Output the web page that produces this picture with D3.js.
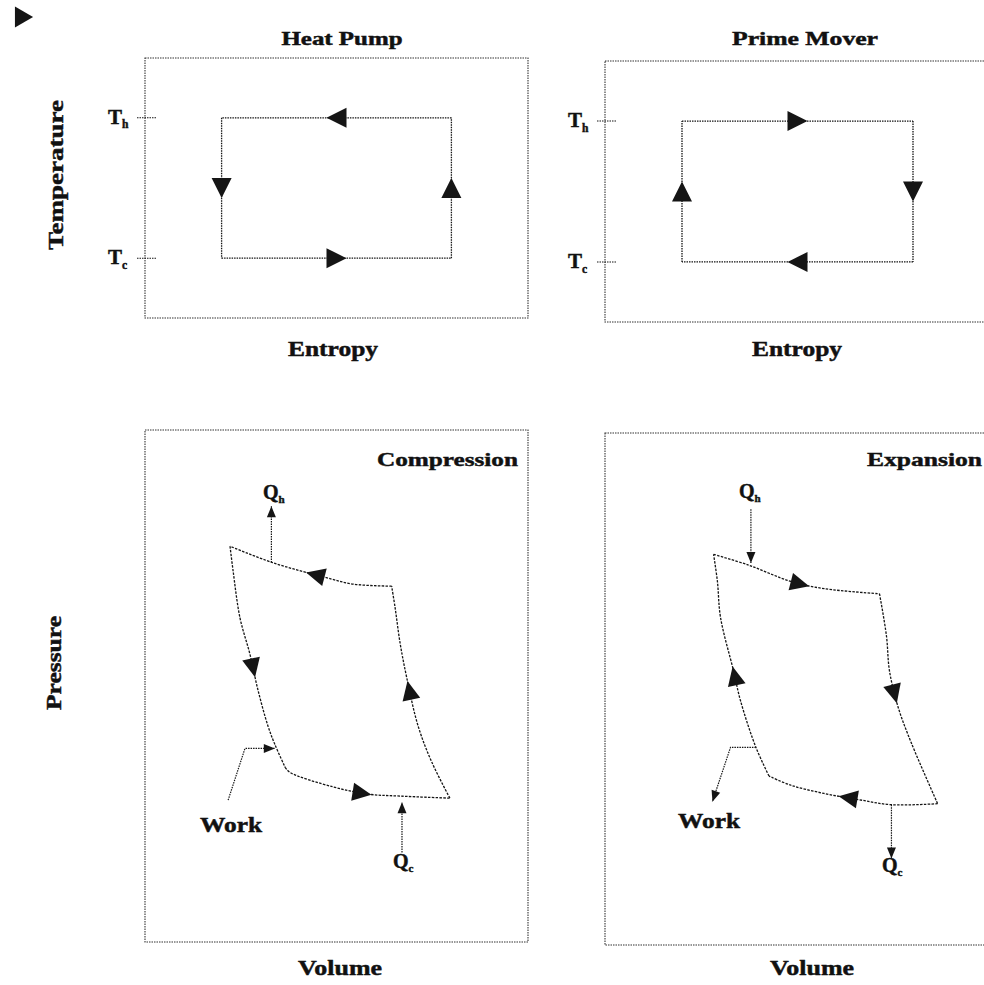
<!DOCTYPE html>
<html><head><meta charset="utf-8">
<script src="https://cdn.jsdelivr.net/npm/d3@7/dist/d3.min.js"></script>
<style>
html,body{margin:0;padding:0;background:#fff;}
svg{display:block;}
text{font-family:"Liberation Serif","Times New Roman",serif;font-weight:bold;fill:#111;stroke:#111;stroke-width:0.45px;}
</style></head><body>
<svg id="chart" width="984" height="985"></svg>
<script>
// ---------------- data ----------------
const tsTitles = ["Heat Pump", "Prime Mover"];
const pvTitles = ["Compression", "Expansion"];
const tsXLabel = "Entropy";
const tsYLabel = "Temperature";
const pvXLabel = "Volume";
const pvYLabel = "Pressure";
const tempTickLabels = ["h", "c"];      // T_h , T_c
const tempLevels = [77, 23];            // hot / cold isotherm temperature (axis units)
// T-S cycle corners (entropy, temperature) in travel order
const heatPumpCycle = [[80, 77], [20, 77], [20, 23], [80, 23]];
const primeMoverCycle = [[20, 77], [80, 77], [80, 23], [20, 23]];
const tsArrowPos = [0.5, 0.5, 0.5, 0.5];
// P-V legs (volume, pressure), each in travel order
const compTop    = [[64.4,69.5],[54.4,69.9],[46.6,71.3],[33.3,74.1],[22.2,77.3]];
const compLeft   = [[22.2,77.3],[23.0,72.5],[24.8,63.3],[27.4,56.2],[29.5,49.2],[32.1,42.2],[33.9,38.6],[36.6,34.1]];
const compBottom = [[36.6,34.1],[37.9,33.1],[49.1,30.3],[58.0,28.9],[66.6,28.5],[79.6,28.1]];
const compRight  = [[79.6,28.1],[74.9,35.1],[71.3,42.2],[68.4,51.4],[66.6,58.4],[65.3,65.3],[64.4,69.5]];
const compArrowPos = [0.46, 0.54, 0.48, 0.52];
const expTop     = [[28.2,76.3],[37.3,74.2],[48.3,71.0],[56.9,69.6],[71.3,68.6]];
const expRight   = [[71.3,68.6],[73.1,60.4],[73.9,53.5],[76.2,46.3],[79.6,39.4],[86.4,27.6]];
const expBottom  = [[86.4,27.6],[74.4,27.4],[65.8,28.4],[56.9,29.6],[48.3,31.2],[42.6,33.0]];
const expLeft    = [[42.6,33.0],[39.2,38.6],[35.2,47.7],[33.4,53.5],[30.0,64.0],[29.2,71.0],[28.2,76.3]];
const expArrowPos = [0.53, 0.46, 0.52, 0.46];
// energy-flow arrows (volume, pressure), from tail to head
const compQh   = [[33.0,74.1],[33.0,85.1]];
const compQc   = [[67.1,17.5],[67.1,27.3]];
const compWork = [[21.7,27.7],[26.1,37.8],[33.9,37.8]];
const expQh    = [[37.9,85.1],[37.9,74.6]];
const expQc    = [[74.4,27.4],[74.4,16.9]];
const expWork  = [[39.2,38.6],[32.6,38.6],[27.9,28.0]];
const flowLabels = ["Q", "h", "c", "Work"];

// ---------------- layout ----------------
const svg = d3.select("#chart");
const boxes = [
  {x0:145, x1:528, y0:58,  y1:318},
  {x0:605, x1:990, y0:61,  y1:322},
  {x0:145, x1:528, y0:430, y1:942},
  {x0:605, x1:990, y0:433, y1:945}
];
const ink = "#151515";

function scalesFor(b){
  return {
    x: d3.scaleLinear().domain([0,100]).range([b.x0,b.x1]),
    y: d3.scaleLinear().domain([0,100]).range([b.y1,b.y0])
  };
}
function label(g, txt, x, y, size, width, anchor, rotate){
  const t = g.append("text").attr("x",x).attr("y",y)
    .attr("font-size",size).attr("text-anchor",anchor||"middle").text(txt);
  if(width) t.attr("textLength",width).attr("lengthAdjust","spacingAndGlyphs");
  if(rotate) t.attr("transform",`rotate(${rotate},${x},${y})`);
  return t;
}
function subLabel(g, main, sub, x, y, size){
  const t = g.append("text").attr("x",x).attr("y",y).attr("font-size",size).attr("text-anchor","start");
  t.append("tspan").text(main);
  t.append("tspan").attr("font-size",size*0.55).attr("dy",size*0.22).text(sub);
  return t;
}
function frame(g,b){
  g.append("rect").attr("x",b.x0).attr("y",b.y0).attr("width",b.x1-b.x0).attr("height",b.y1-b.y0)
    .attr("fill","none").attr("stroke","#333").attr("stroke-width",1.1).attr("stroke-dasharray","1.5,1");
}
function arrowOn(g, pathNode, frac, shape){
  const L = pathNode.getTotalLength();
  const p = pathNode.getPointAtLength(frac*L);
  const q = pathNode.getPointAtLength(Math.min(L, frac*L+2));
  const p0 = pathNode.getPointAtLength(Math.max(0, frac*L-2));
  const ang = Math.atan2(q.y-p0.y, q.x-p0.x)*180/Math.PI;
  g.append("path").attr("d",shape).attr("fill",ink)
    .attr("transform",`translate(${p.x},${p.y}) rotate(${ang})`);
}
function headAt(g, a, b, shape){
  const ang = Math.atan2(b[1]-a[1], b[0]-a[0])*180/Math.PI;
  g.append("path").attr("d",shape).attr("fill",ink)
    .attr("transform",`translate(${b[0]},${b[1]}) rotate(${ang})`);
}
const bigHead = "M10,0L-10,-10L-10,10Z";
const pvHead  = "M10,0L-9,-9L-9,9Z";
const smallHead = "M0,0L-11,-4.5L-11,4.5Z";

// decorative bullet
svg.append("path").attr("d", d3.symbol(d3.symbolTriangle, 190)())
  .attr("transform","translate(21,17) rotate(90)").attr("fill",ink);

// ---------------- T-S panels ----------------
function drawTS(i, cycle, title, titleX, xLabX){
  const b = boxes[i], s = scalesFor(b), g = svg.append("g");
  frame(g,b);
  label(g, title, titleX, 45, 18, title.length>9?146:121);
  label(g, tsXLabel, xLabX, 356, 20, 90);
  tempLevels.forEach((t,k)=>{
    g.append("line").attr("x1",s.x(0)-8).attr("x2",s.x(0)+12)
      .attr("y1",s.y(t)).attr("y2",s.y(t))
      .attr("stroke",ink).attr("stroke-width",1.1).attr("stroke-dasharray","1.5,1");
    subLabel(g,"T",tempTickLabels[k],s.x(0)-37,s.y(t)+6,21);
  });
  const line = d3.line().x(d=>s.x(d[0])).y(d=>s.y(d[1]));
  cycle.forEach((c,k)=>{
    const seg = [c, cycle[(k+1)%cycle.length]];
    const p = g.append("path").attr("d",line(seg)).attr("fill","none")
      .attr("stroke",ink).attr("stroke-width",1.3).attr("stroke-dasharray","1.5,1");
    arrowOn(g, p.node(), tsArrowPos[k], bigHead);
  });
}
drawTS(0, heatPumpCycle, tsTitles[0], 342, 333);
drawTS(1, primeMoverCycle, tsTitles[1], 805, 797);
label(svg, tsYLabel, 63, 175, 21, 150, "middle", -90);

// ---------------- P-V panels ----------------
function drawPV(i, legs, fracs, qh, qc, work, title, titleEnd, volX, workPos, qhLab, qcLab){
  const b = boxes[i], s = scalesFor(b), g = svg.append("g");
  frame(g,b);
  label(g, title, titleEnd, 466, 19, title.length>9?141:115, "end");
  label(g, pvXLabel, volX, 975, 20, 84);
  const curve = d3.line().x(d=>s.x(d[0])).y(d=>s.y(d[1])).curve(d3.curveCatmullRom.alpha(0.5));
  legs.forEach((leg,k)=>{
    const p = g.append("path").attr("d",curve(leg)).attr("fill","none")
      .attr("stroke",ink).attr("stroke-width",1.3).attr("stroke-dasharray","2.5,1.3");
    arrowOn(g, p.node(), fracs[k], pvHead);
  });
  const straight = d3.line().x(d=>s.x(d[0])).y(d=>s.y(d[1]));
  [qh,qc,work].forEach(f=>{
    g.append("path").attr("d",straight(f)).attr("fill","none")
      .attr("stroke",ink).attr("stroke-width",1.2).attr("stroke-dasharray","1.5,1");
    const n = f.length;
    headAt(g,[s.x(f[n-2][0]),s.y(f[n-2][1])],[s.x(f[n-1][0]),s.y(f[n-1][1])],smallHead);
  });
  subLabel(g, flowLabels[0], flowLabels[1], qhLab[0], qhLab[1], 20);
  subLabel(g, flowLabels[0], flowLabels[2], qcLab[0], qcLab[1], 20);
  label(g, flowLabels[3], workPos[0], workPos[1], 20, 62, "start");
}
drawPV(2, [compTop,compLeft,compBottom,compRight], compArrowPos, compQh, compQc, compWork,
       pvTitles[0], 518, 340, [200,832], [263,499], [393,868]);
drawPV(3, [expTop,expRight,expBottom,expLeft], expArrowPos, expQh, expQc, expWork,
       pvTitles[1], 982, 812, [678,828], [739,498], [882,872]);
label(svg, pvYLabel, 61, 663, 20, 94, "middle", -90);
</script>
</body></html>
